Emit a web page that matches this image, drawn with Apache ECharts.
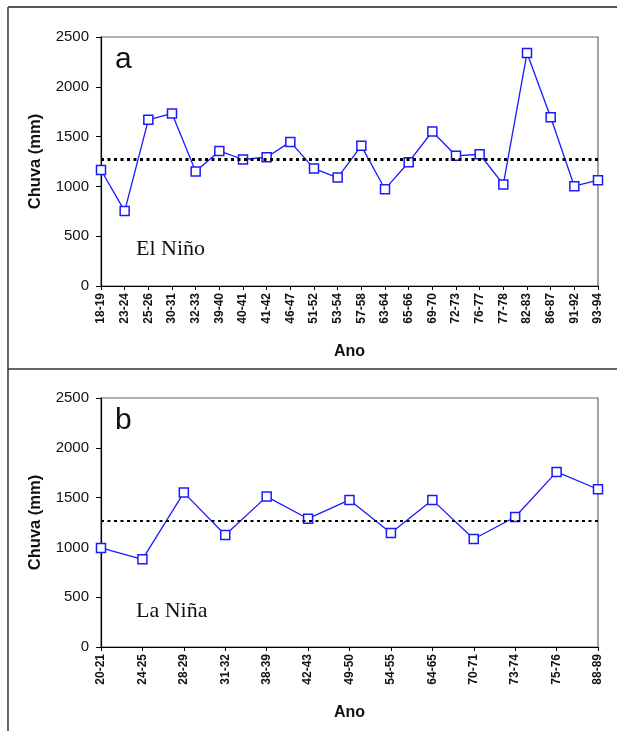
<!DOCTYPE html>
<html>
<head>
<meta charset="utf-8">
<script src="https://cdn.jsdelivr.net/npm/echarts@6/dist/echarts.min.js"></script>
<style>
html,body{margin:0;padding:0;background:#fff;}
#chart{width:617px;height:731px;}
</style>
</head>
<body>
<div id="chart"></div>
<script>
// ---- Data ----
const elNinoYears = ['18-19','23-24','25-26','30-31','32-33','39-40','40-41','41-42','46-47','51-52','53-54','57-58','63-64','65-66','69-70','72-73','76-77','77-78','82-83','86-87','91-92','93-94'];
const elNinoRain  = [1165, 752, 1668, 1732, 1150, 1356, 1270, 1293, 1447, 1179, 1089, 1407, 972, 1243, 1551, 1307, 1323, 1020, 2339, 1695, 1002, 1062];
const laNinaYears = ['20-21','24-25','28-29','31-32','38-39','42-43','49-50','54-55','64-65','70-71','73-74','75-76','88-89'];
const laNinaRain  = [995, 880, 1550, 1124, 1510, 1288, 1477, 1144, 1477, 1084, 1305, 1758, 1584];
const meanA = 1275;
const meanB = 1270;
const yTicks = {min: 0, max: 2500, interval: 500};

const blue = '#1a1aff';
const sans = 'Liberation Sans, Arial, sans-serif';
const serif = 'Liberation Serif, Times New Roman, serif';

function xAxisCfg(gridIndex, cats) {
  return {
    type: 'category', gridIndex, data: cats, boundaryGap: false,
    axisLine: {show: true, lineStyle: {color: '#000', width: 1.2}},
    axisTick: {show: true, length: 4, interval: 0, lineStyle: {color: '#000'}},
    axisLabel: {interval: 0, rotate: 90, fontSize: 12, fontWeight: 'bold', color: '#111', fontFamily: sans, margin: 7},
    splitLine: {show: false},
    name: 'Ano', nameLocation: 'middle', nameGap: 58,
    nameTextStyle: {fontSize: 16, fontWeight: 'bold', color: '#111', fontFamily: sans}
  };
}
function yAxisCfg(gridIndex) {
  return {
    type: 'value', gridIndex, min: yTicks.min, max: yTicks.max, interval: yTicks.interval,
    axisLine: {show: true, lineStyle: {color: '#000', width: 1.2}},
    axisTick: {show: true, length: 5, lineStyle: {color: '#000'}},
    axisLabel: {fontSize: 15, color: '#111', fontFamily: sans, margin: 12, formatter: v => String(v)},
    splitLine: {show: false},
    name: 'Chuva (mm)', nameLocation: 'middle', nameGap: 57, nameRotate: 90,
    nameTextStyle: {fontSize: 16.5, fontWeight: 'bold', color: '#111', fontFamily: sans}
  };
}
function seriesCfg(idx, data, mean) {
  return {
    type: 'line', xAxisIndex: idx, yAxisIndex: idx, data: data,
    symbol: 'rect', symbolSize: 9, clip: false,
    itemStyle: {color: '#fff', borderColor: blue, borderWidth: 1.5},
    lineStyle: {color: blue, width: 1.3},
    emphasis: {disabled: true},
    markLine: {
      silent: true, symbol: 'none', label: {show: false},
      lineStyle: {color: '#000', type: [3, 3.5], width: idx === 0 ? 3 : 2.2},
      data: [{yAxis: mean}]
    },
    z: 3
  };
}

const chart = echarts.init(document.getElementById('chart'), null, {renderer: 'canvas'});
chart.setOption({
  animation: false,
  backgroundColor: '#fff',
  grid: [
    {left: 101, top: 37, right: 19, height: 249, show: true, borderColor: '#666', borderWidth: 1.2, backgroundColor: 'transparent'},
    {left: 101, top: 398, right: 19, height: 249, show: true, borderColor: '#666', borderWidth: 1.2, backgroundColor: 'transparent'}
  ],
  xAxis: [xAxisCfg(0, elNinoYears), xAxisCfg(1, laNinaYears)],
  yAxis: [yAxisCfg(0), yAxisCfg(1)],
  series: [seriesCfg(0, elNinoRain, meanA), seriesCfg(1, laNinaRain, meanB)],
  graphic: [
    {type: 'line', shape: {x1: 8, y1: 7, x2: 617, y2: 7}, style: {stroke: '#555', lineWidth: 1.8}},
    {type: 'line', shape: {x1: 8, y1: 7, x2: 8, y2: 731}, style: {stroke: '#555', lineWidth: 1.8}},
    {type: 'line', shape: {x1: 8, y1: 369, x2: 617, y2: 369}, style: {stroke: '#333', lineWidth: 1.5}},
    {type: 'text', left: 115, top: 45, style: {text: 'a', font: '30px ' + sans, fill: '#111'}},
    {type: 'text', left: 115, top: 406, style: {text: 'b', font: '30px ' + sans, fill: '#111'}},
    {type: 'text', left: 136, top: 238, style: {text: 'El Niño', font: '22px ' + serif, fill: '#111'}},
    {type: 'text', left: 136, top: 600, style: {text: 'La Niña', font: '22px ' + serif, fill: '#111'}}
  ]
});
</script>
</body>
</html>
